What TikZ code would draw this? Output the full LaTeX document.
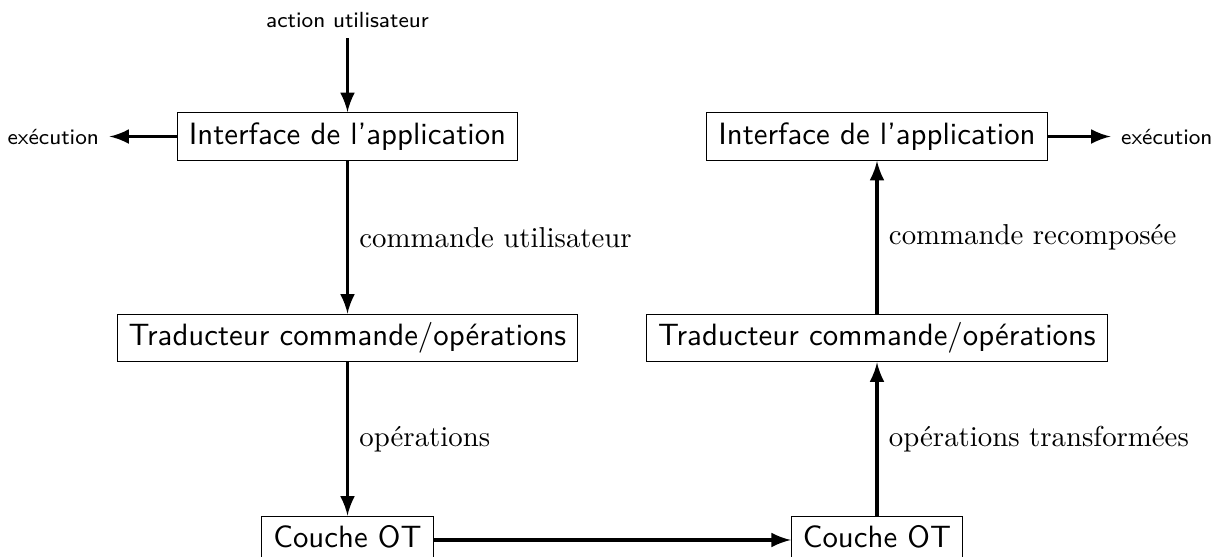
\documentclass[tikz,border=0pt]{standalone}
\usepackage{fontspec}
\usepackage{tikz}
\usetikzlibrary{arrows}

\tikzset{
  bloc/.style={draw, line width=0.4pt, font=\fontsize{10.7}{12}\selectfont\sffamily,
    text height=8pt, text depth=2.6pt, inner xsep=4pt, inner ysep=3pt},
  flux/.style={-latex, line width=1.3pt},
  petit/.style={font=\fontsize{7.6}{9}\selectfont\sffamily, inner sep=3.5pt},
  legende/.style={right, inner sep=3.5pt}
}

\begin{document}
\begin{tikzpicture}
\useasboundingbox (0,0) rectangle (14.889,-6.786);

% colonne gauche
\node[bloc] (ihm1) at (4.241,-1.666) {Interface de l'application};
\node[bloc] (trad1) at (4.241,-4.125) {Traducteur commande/opérations};
\node[bloc] (ot1) at (4.241,-6.59) {Couche OT};
\node[petit] (action) at (4.241,-0.244) {action utilisateur};
\node[petit] (exec1) at (0.65,-1.666) {exécution};

% colonne droite
\node[bloc] (ihm2) at (10.703,-1.666) {Interface de l'application};
\node[bloc] (trad2) at (10.703,-4.125) {Traducteur commande/opérations};
\node[bloc] (ot2) at (10.703,-6.59) {Couche OT};
\node[petit] (exec2) at (14.24,-1.666) {exécution};

\draw[flux] (action) -- (ihm1);
\draw[flux] (ihm1) -- (exec1);
\draw[flux] (ihm1) -- node[legende] {commande utilisateur} (trad1);
\draw[flux] (trad1) -- node[legende] {opérations} (ot1);
\draw[flux] (ot1) -- (ot2);
\draw[flux] (ot2) -- node[legende] {opérations transformées} (trad2);
\draw[flux] (trad2) -- node[legende] {commande recomposée} (ihm2);
\draw[flux] (ihm2) -- (exec2);
\end{tikzpicture}
\end{document}
